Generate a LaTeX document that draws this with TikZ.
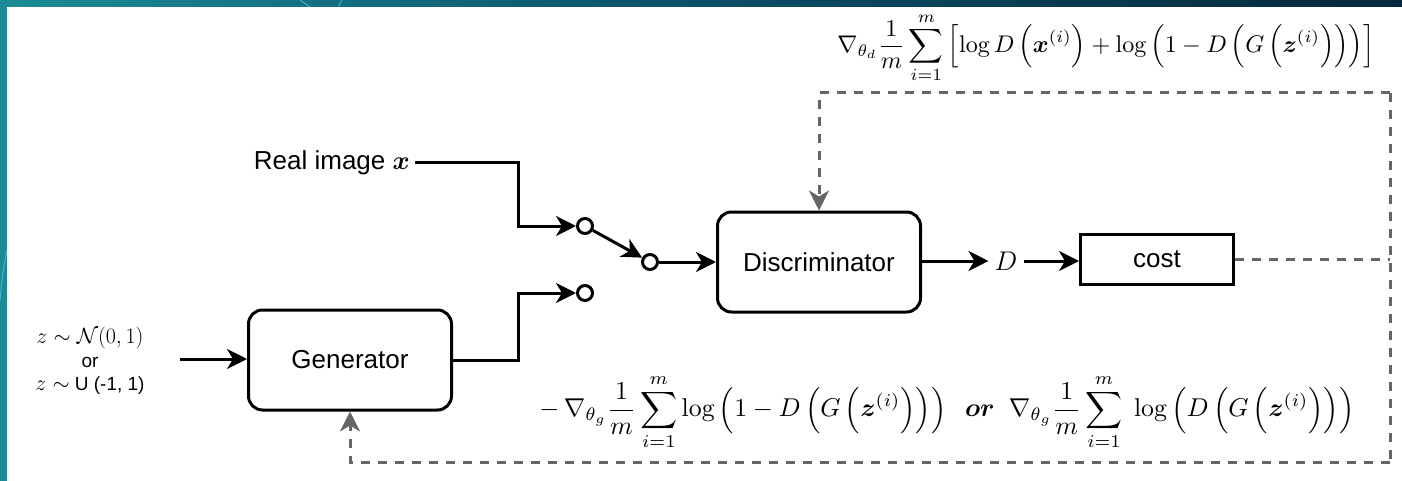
\RequirePackage{fix-cm}
\documentclass[tikz,border=0pt]{standalone}
\usepackage{amsmath,bm}
\usepackage{fontspec}
\newfontfamily\helv{Liberation Sans}
\usetikzlibrary{arrows.meta,calc}
\definecolor{dgray}{HTML}{666666}
\definecolor{frameL}{HTML}{1B8C96}
\definecolor{frameM}{HTML}{0B4F68}
\definecolor{frameR}{HTML}{06283C}
\tikzset{
  blk/.style={draw, line width=3pt, rounded corners=14pt, minimum width=203pt, minimum height=100pt, font=\helv\fontsize{26}{30}\selectfont, inner sep=0pt},
  sqblk/.style={draw, line width=3pt, minimum width=153pt, minimum height=50pt, font=\helv\fontsize{26}{30}\selectfont, inner sep=0pt},
  sw/.style={draw, circle, line width=3pt, minimum size=15pt, inner sep=0pt},
  arr/.style={line width=3pt, -{Stealth[length=20pt,width=20pt,inset=6pt]}},
  gdash/.style={line width=3pt, dgray, dash pattern=on 9pt off 8pt},
  garr/.style={gdash, -{Stealth[length=20pt,width=20pt,inset=6pt,sep=0pt]}},
  lbl/.style={font=\helv\fontsize{26}{30}\selectfont, inner sep=0pt}
}
\begin{document}
\begin{tikzpicture}[x=1pt,y=-1pt]
\useasboundingbox (0,0) rectangle (1402,481);
% frame
\shade[left color=frameL, right color=frameR, middle color=frameM] (0,0) rectangle (1402,481);
\draw[cyan!60!white, line width=1pt, opacity=0.6] (0,300) .. controls (3,270) .. (7,250);
\draw[cyan!60!white, line width=1pt, opacity=0.6] (300,0) -- (310,7);
\draw[cyan!60!white, line width=1pt, opacity=0.6] (338,7) -- (342,0);
\fill[white] (7,7) rectangle (1402,481);

% nodes
\node[blk] (gen) at (350,360) {Generator};
\node[blk] (disc) at (819,262) {Discriminator};
\node[sqblk] (cost) at (1157,259) {cost};
\node[lbl, anchor=east] (real) at (410,163) {Real image $\boldsymbol{x}$};
\node[sw] (c1) at (585,226) {};
\node[sw] (c2) at (650,262) {};
\node[sw] (c3) at (585,293) {};
\node[inner sep=0pt, font=\fontsize{27}{30}\selectfont] (D) at (1006,261) {$D$};
\node[align=center, font=\helv\fontsize{19}{23.5}\selectfont, inner sep=0pt] (inp) at (90,361)
  {{\fontsize{22}{23.5}\selectfont$z\sim\mathcal{N}(0,1)$}\\ or\\ {\fontsize{22}{23.5}\selectfont$z\sim$} U (-1, 1)};
\coordinate (in) at (180,359);
\coordinate (tr) at (1390,93);
\coordinate (br) at (1390,462);

% formulas
\node[inner sep=0pt] (f1) at (1106,48) {\resizebox{537pt}{!}{$\displaystyle
  \nabla_{\theta_d}\frac{1}{m}\sum_{i=1}^{m}\left[\log D\left(\boldsymbol{x}^{(i)}\right)+\log\left(1-D\left(G\left(\boldsymbol{z}^{(i)}\right)\right)\right)\right]$}};
\node[inner sep=0pt] (f2) at (947,412) {\resizebox{815pt}{!}{$\displaystyle
  -\,\nabla_{\theta_g}\frac{1}{m}\sum_{i=1}^{m}\log\left(1-D\left(G\left(\boldsymbol{z}^{(i)}\right)\right)\right)\;\;\boldsymbol{or}\;\;\nabla_{\theta_g}\frac{1}{m}\sum_{i=1}^{m}\;\log\left(D\left(G\left(\boldsymbol{z}^{(i)}\right)\right)\right)$}};

% connectors
\draw[arr] ([xshift=5pt]real.east) -- (518,163) |- (c1.west);
\draw[arr] (c1) -- (c2);
\draw[arr] (gen.east) -- (518,360) |- (c3.west);
\draw[arr] (c2.east) -- (c2.east -| disc.west);
\draw[arr] (disc.east |- D) -- ([xshift=-6pt]D.west);
\draw[arr] ([xshift=6pt]D.east) -- (D.east -| cost.west);
\draw[arr] (in) -- (in -| gen.west);

% feedback
\draw[gdash] (cost.east) -- (cost.east -| tr);
\draw[garr] (tr) -| (disc.north);
\draw[gdash] (tr) -- (br);
\draw[garr] (br) -| (gen.south);
\end{tikzpicture}
\end{document}
